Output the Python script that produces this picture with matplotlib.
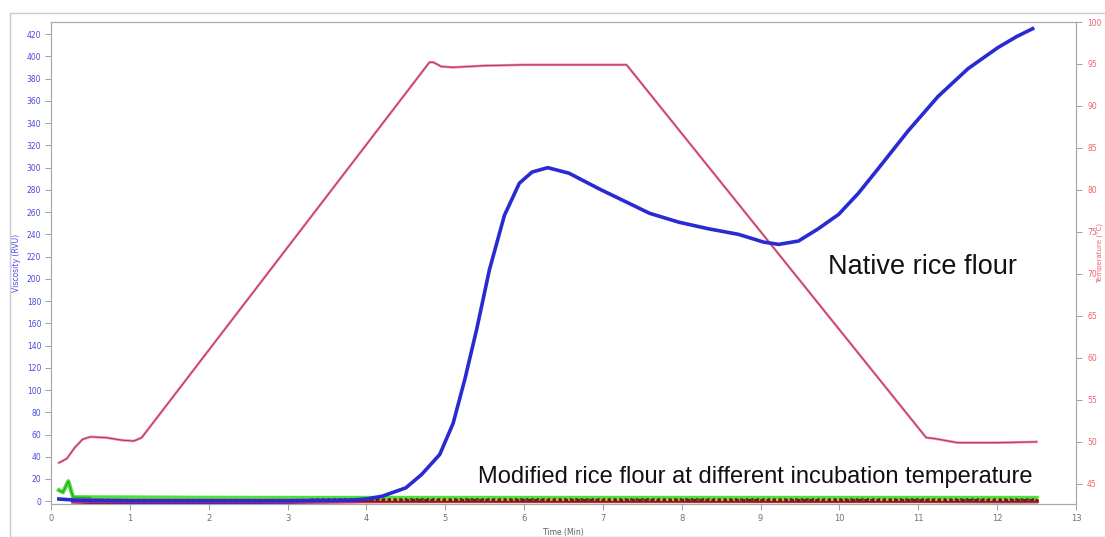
import matplotlib
matplotlib.use("Agg")
import matplotlib.pyplot as plt
from matplotlib.patches import Rectangle

# ---- Pasting profile: native rice flour (viscosity, RVU) ----
native_time = [0.10, 0.30, 1.00, 2.00, 3.00, 3.80, 4.00, 4.20, 4.50, 4.70, 4.93,
               5.10, 5.25, 5.40, 5.56, 5.75, 5.94, 6.10, 6.30, 6.57, 6.95, 7.27,
               7.59, 7.96, 8.34, 8.72, 9.04, 9.23, 9.48, 9.73, 9.99, 10.24, 10.49,
               10.87, 11.25, 11.63, 12.01, 12.25, 12.45]
native_visc = [2, 1, 0.5, 0.5, 0.5, 1, 2, 4.5, 12, 24, 42,
               70, 110, 155, 208, 257, 286, 296, 300, 295, 281, 270,
               259, 251, 245, 240, 233, 231, 234, 245, 258, 277, 299,
               333, 364, 389, 408, 418, 425]

# ---- Temperature programme (deg C) ----
temp_time = [0.10, 0.20, 0.30, 0.40, 0.50, 0.70, 0.90, 1.05, 1.15, 4.80,
             4.85, 4.95, 5.10, 5.50, 6.00, 7.30, 11.10, 11.20, 11.50, 12.00, 12.50]
temp_c = [47.5, 48.0, 49.3, 50.3, 50.6, 50.5, 50.2, 50.1, 50.5, 95.2,
          95.2, 94.7, 94.6, 94.8, 94.9, 94.9, 50.5, 50.4, 49.9, 49.9, 50.0]

# ---- Modified rice flour at different incubation temperatures ----
green_time = [0.10, 0.15, 0.22, 0.28, 0.50, 1.00, 2.00, 3.00, 4.00, 5.00,
              6.00, 7.00, 8.00, 9.00, 10.00, 11.00, 12.00, 12.50]
mod_green = [10, 8, 18, 3.6, 3.5, 3.4, 3.1, 3.0, 3.0, 3.0,
             3.0, 3.0, 3.0, 3.0, 3.0, 3.0, 3.0, 3.0]
mod_time = [0.28, 0.50, 1.00, 2.00, 3.00, 4.00, 5.00,
            6.00, 7.00, 8.00, 9.00, 10.00, 11.00, 12.00, 12.50]
mod_orange = [1.6, 1.6, 1.6, 1.5, 1.5, 1.5, 1.5,
              1.5, 1.5, 1.4, 1.4, 1.4, 1.4, 1.4, 1.4]
mod_darkred = [0.8, 0.8, 0.7, 0.7, 0.7, 0.7, 0.7,
               0.7, 0.7, 0.7, 0.6, 0.6, 0.6, 0.6, 0.6]
mod_red = [0.0, 0.0, 0.0, 0.0, 0.0, 0.0, 0.0,
           0.0, 0.0, 0.0, 0.0, 0.0, 0.0, 0.0, 0.0]
mod_purple = [-0.5, -0.9, -0.9, -1.0, -0.8, -0.2, -0.1,
              -0.1, -0.1, -0.1, -0.1, -0.1, -0.1, -0.3, -0.3]
mod_black_time = [3.3, 4.0, 4.3, 11.3, 12.0, 12.5]
mod_black = [1.4, 1.6, 1.6, 1.5, 1.5, 1.5]

visc_ticks = list(range(0, 421, 20))
temp_ticks = list(range(45, 101, 5))
time_ticks = list(range(0, 14))

fig = plt.figure(figsize=(11.05, 5.37), dpi=100)
fig.patch.set_facecolor("white")
fig.patches.append(Rectangle((10 / 1105, 0), 1.2, (537 - 13) / 537,
                             transform=fig.transFigure, fill=False,
                             edgecolor="#c8cad4", linewidth=1.0))

ax = fig.add_axes([51 / 1105, 33 / 537, 1025 / 1105, 482 / 537])
ax2 = ax.twinx()

# temperature on the right axis
ax2.plot(temp_time, temp_c, color="#ec7fa0", lw=1.8, zorder=2)
ax2.plot(temp_time, temp_c, color="#a8304a", lw=0.6, zorder=3)
ax2.set_ylim(42.6, 100)

# modified flours near the baseline
ax.plot(mod_time, mod_purple, color="#5a1fc0", lw=2.6, zorder=3)
ax.plot(mod_time, mod_red, color="#e02828", lw=2.2, zorder=3)
ax.plot(mod_time, mod_darkred, color="#7a1818", lw=2.2, zorder=3)
ax.plot(mod_time, mod_orange, color="#e8a830", lw=2.0, ls=(0, (1, 1.2)), zorder=4)
ax.plot(mod_black_time, mod_black, color="#303030", lw=1.8, ls=(0, (1, 1.2)), zorder=4)
ax.plot(green_time, mod_green, color="#4ee03a", lw=3.0, zorder=2)
ax.plot(green_time[:5], mod_green[:5], color="#2a9a2a", lw=0.8, zorder=2)

# native flour
ax.plot(native_time, native_visc, color="#2a2ad2", lw=2.6, zorder=5)
ax.set_ylim(-2.5, 431)
ax.set_xlim(0, 13)

ax.set_zorder(ax2.get_zorder() + 1)
ax.patch.set_visible(False)

for a in (ax, ax2):
    for s in a.spines.values():
        s.set_color("#a8a8a8")
        s.set_linewidth(0.8)

ax.set_xticks(time_ticks)
ax.set_xticklabels([str(t) for t in time_ticks], fontsize=6, color="#707070")
ax.set_yticks(visc_ticks)
ax.set_yticklabels([str(v) for v in visc_ticks], fontsize=5.5, color="#4a4ae0")
ax2.set_yticks(temp_ticks)
ax2.set_yticklabels([str(v) for v in temp_ticks], fontsize=5.5, color="#f06070")
ax.tick_params(axis="both", length=4, width=0.6, color="#909090", pad=3)
ax2.tick_params(axis="y", length=4, width=0.6, color="#909090", pad=4)

ax.set_xlabel("Time (Min)", fontsize=5.5, color="#606060", labelpad=4)
ax.set_ylabel("Viscosity (RVU)", fontsize=5.5, color="#4a4ae0", labelpad=4)
ax2.set_ylabel("Temperature (\u00b0C)", fontsize=5, color="#f06070")
ax2.yaxis.set_label_coords(1.0 + 21 / 1025, 0.52)

ax.text(0.758, 0.492, "Native rice flour", transform=ax.transAxes,
        fontsize=19.5, family="Liberation Sans", color="#111111", va="center")
ax.text(0.417, 0.056, "Modified rice flour at different incubation temperature",
        transform=ax.transAxes, fontsize=17, family="Liberation Sans",
        color="#111111", va="center")

fig.savefig("out.png", dpi=100)
